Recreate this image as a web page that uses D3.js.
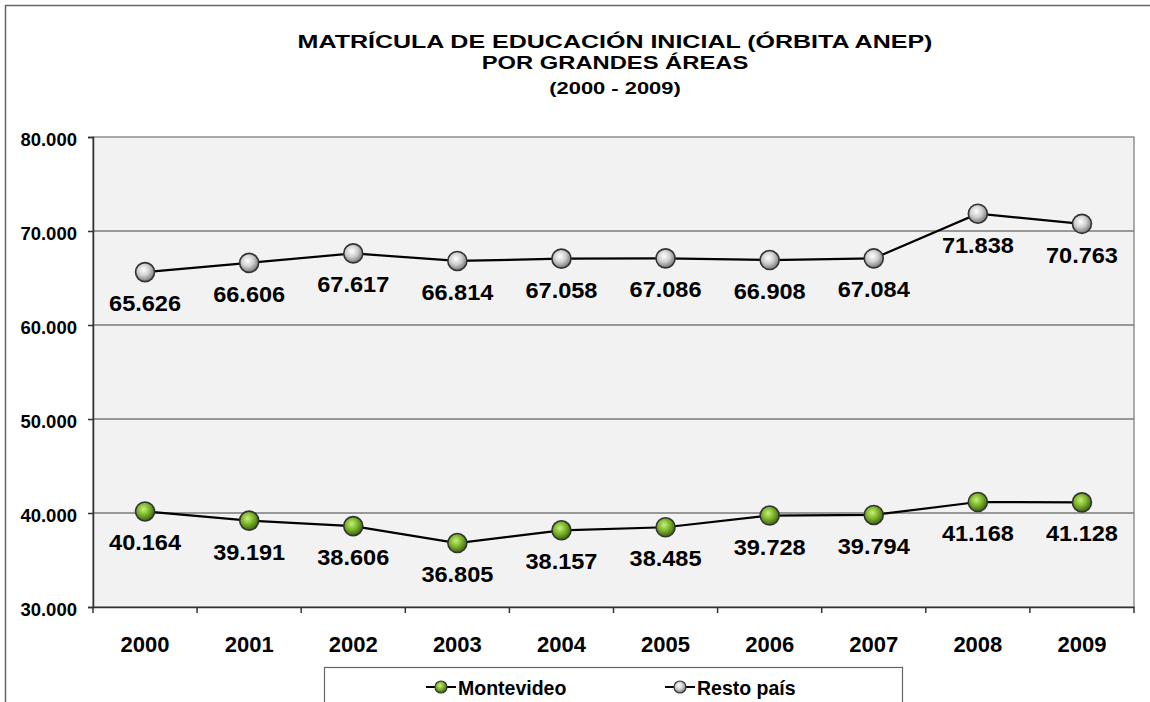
<!DOCTYPE html>
<html><head><meta charset="utf-8">
<script src="https://cdn.jsdelivr.net/npm/d3@7"></script>
<style>body{margin:0;background:#fff}svg{display:block}text{font-family:"Liberation Sans",Arial,sans-serif;font-weight:bold;fill:#000}</style>
</head><body>
<svg id="c" width="1150" height="702"></svg>
<script>
const years = ["2000","2001","2002","2003","2004","2005","2006","2007","2008","2009"];
const montevideo = [40164,39191,38606,36805,38157,38485,39728,39794,41168,41128];
const restoPais = [65626,66606,67617,66814,67058,67086,66908,67084,71838,70763];
const yTicks = [30000,40000,50000,60000,70000,80000];
const seriesNames = ["Montevideo","Resto país"];
const titleLines = ["MATRÍCULA DE EDUCACIÓN INICIAL (ÓRBITA ANEP)","POR GRANDES ÁREAS","(2000 - 2009)"];

const svg = d3.select("#c");
const fmt = v => d3.format(",")(v).replace(/,/g,".");

const defs = svg.append("defs");
function grad(id, c0, c1, c2){
  const g = defs.append("radialGradient").attr("id",id).attr("cx","42%").attr("cy","38%").attr("r","62%");
  g.append("stop").attr("offset","0%").attr("stop-color",c0);
  g.append("stop").attr("offset","50%").attr("stop-color",c1);
  g.append("stop").attr("offset","100%").attr("stop-color",c2);
}
grad("gGreen","#c8ef7a","#7cb62a","#3d6410");
grad("gGray","#ffffff","#cfcfcf","#777777");

// outer border
svg.append("rect").attr("x",5.5).attr("y",5.5).attr("width",1300).attr("height",900)
  .attr("fill","#fff").attr("stroke","#666").attr("stroke-width",1.5);

const m = {l:93, r:1134, t:137, b:607};
const x = d3.scaleBand().domain(years).range([m.l,m.r]);
const y = d3.scaleLinear().domain([30000,80000]).range([m.b,m.t]);

svg.append("rect").attr("x",m.l).attr("y",m.t).attr("width",m.r-m.l).attr("height",m.b-m.t)
  .attr("fill","#f2f2f2").attr("stroke","#808080").attr("stroke-width",1.3);

// gridlines
svg.append("g").selectAll("line").data(yTicks.filter(d=>d>30000 && d<80000)).join("line")
  .attr("x1",m.l).attr("x2",m.r).attr("y1",d=>y(d)).attr("y2",d=>y(d))
  .attr("stroke","#7a7a7a").attr("stroke-width",1.3);

// y axis
const ya = svg.append("g").attr("transform",`translate(${m.l},0)`)
  .call(d3.axisLeft(y).tickValues(yTicks).tickFormat(fmt).tickSize(5).tickPadding(11));
ya.select(".domain").attr("stroke","#333").attr("stroke-width",1.5);
ya.selectAll(".tick line").attr("stroke","#333").attr("stroke-width",1.5);
ya.selectAll(".tick text").style("font-size","18.5px").style("font-family","'Liberation Sans',Arial,sans-serif").style("font-weight","bold").attr("dy","0.62em").attr("fill","#000");
ya.selectAll(".tick text").attr("y",-3);

// x axis
const xa = svg.append("g").attr("transform",`translate(0,${m.b})`)
  .call(d3.axisBottom(x).tickSize(0).tickPadding(29));
xa.select(".domain").attr("stroke","#333").attr("stroke-width",1.5);
xa.selectAll(".tick text").style("font-size","22px").style("font-family","'Liberation Sans',Arial,sans-serif").style("font-weight","bold").attr("fill","#000");
const bounds = years.map(d=>x(d)).concat([m.r]);
svg.append("g").selectAll("line").data(bounds).join("line")
  .attr("x1",d=>d).attr("x2",d=>d).attr("y1",m.b).attr("y2",m.b+6)
  .attr("stroke","#333").attr("stroke-width",1.5);

const cx = d => x(d) + x.bandwidth()/2;
const line = d3.line().x((d,i)=>cx(years[i])).y(d=>y(d));

function series(data, gid){
  const g = svg.append("g");
  g.append("path").datum(data).attr("d",line).attr("fill","none").attr("stroke","#000").attr("stroke-width",2.2);
  g.selectAll("circle").data(data).join("circle")
    .attr("cx",(d,i)=>cx(years[i])).attr("cy",d=>y(d)).attr("r",9.5)
    .attr("fill",`url(#${gid})`).attr("stroke","#333").attr("stroke-width",1.6);
  g.selectAll("text").data(data).join("text")
    .attr("transform",(d,i)=>`translate(${cx(years[i])},${y(d)+39}) scale(1.07,1)`)
    .attr("text-anchor","middle").style("font-size","22px").text(fmt);
}
series(restoPais,"gGray");
series(montevideo,"gGreen");

// title
const ts = [{t:titleLines[0],y:48,s:18,k:1.39},{t:titleLines[1],y:69,s:18,k:1.32},{t:titleLines[2],y:94,s:16,k:1.37}];
svg.append("g").selectAll("text").data(ts).join("text")
  .attr("transform",d=>`translate(615,${d.y}) scale(${d.k},1)`)
  .attr("text-anchor","middle").style("font-size",d=>d.s+"px").text(d=>d.t);

// legend
const lg = svg.append("g");
lg.append("rect").attr("x",324.5).attr("y",667.5).attr("width",578).attr("height",80)
  .attr("fill","#fff").attr("stroke","#666").attr("stroke-width",1.2);
const items = [{n:seriesNames[0],g:"gGreen",x:441},{n:seriesNames[1],g:"gGray",x:680}];
items.forEach(it=>{
  lg.append("line").attr("x1",it.x-15).attr("x2",it.x+15).attr("y1",687).attr("y2",687).attr("stroke","#000").attr("stroke-width",2);
  lg.append("circle").attr("cx",it.x).attr("cy",687).attr("r",6).attr("fill",`url(#${it.g})`).attr("stroke","#333").attr("stroke-width",1.2);
  lg.append("text").attr("x",it.x+17).attr("y",695).style("font-size","19.5px").text(it.n);
});
</script>
</body></html>
